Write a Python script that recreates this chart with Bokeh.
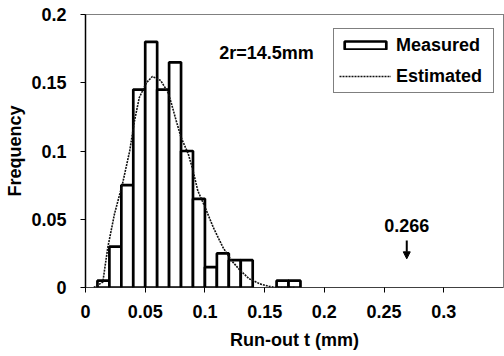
from bokeh.plotting import figure
from bokeh.models import (ColumnDataSource, FixedTicker, Legend, LegendItem,
                          Arrow, NormalHead, Range1d)
from bokeh.core.properties import value
from bokeh.embed import file_html
from bokeh.resources import INLINE

# ---- data ----
bin_centers = [0.015, 0.025, 0.035, 0.045, 0.055, 0.065, 0.075, 0.085, 0.095,
               0.105, 0.115, 0.125, 0.135, 0.145, 0.155, 0.165, 0.175]
measured = [0.005, 0.030, 0.075, 0.145, 0.180, 0.145, 0.165, 0.100, 0.065,
            0.015, 0.025, 0.020, 0.020, 0.0, 0.0, 0.005, 0.005]
bin_width = 0.01

est_t = [0.007, 0.0145, 0.0187, 0.0243, 0.031, 0.037, 0.041, 0.045, 0.051,
         0.056, 0.063, 0.069, 0.072, 0.076, 0.080, 0.086, 0.090, 0.094,
         0.100, 0.107, 0.115, 0.122, 0.129, 0.137, 0.146, 0.154, 0.162, 0.175]
est_f = [0.0, 0.004, 0.0295, 0.054, 0.076, 0.100, 0.122, 0.139, 0.150,
         0.1546, 0.1516, 0.143, 0.1346, 0.122, 0.110, 0.098, 0.0857, 0.071,
         0.059, 0.044, 0.0295, 0.020, 0.013, 0.0064, 0.0027, 0.0007, 0.0, 0.0]

x_ticks = [0, 0.05, 0.1, 0.15, 0.2, 0.25, 0.3]
x_tick_labels = ["0", "0.05", "0.1", "0.15", "0.2", "0.25", "0.3"]
y_ticks = [0, 0.05, 0.1, 0.15, 0.2]
y_tick_labels = ["0", "0.05", "0.1", "0.15", "0.2"]

note_text = "2r=14.5mm"
note_x, note_y = 0.112, 0.172
marker_label = "0.266"
marker_t = 0.269
marker_label_y = 0.0454
arrow_y_start, arrow_y_end = 0.0344, 0.021

FONT = "Liberation Sans"

# ---- figure ----
p = figure(width=504, height=356, output_backend="svg", toolbar_location=None,
           x_range=Range1d(0, 0.35), y_range=Range1d(0, 0.2),
           min_border_left=85, min_border_right=1, min_border_top=14,
           min_border_bottom=69)
p.background_fill_color = "white"
p.border_fill_color = "white"
p.outline_line_color = "black"
p.outline_line_width = 1
p.outline_line_dash = "1 1"
p.xgrid.visible = False
p.ygrid.visible = False

keep = [i for i, v in enumerate(measured) if v > 0]
bars_src = ColumnDataSource(dict(x=[bin_centers[i] for i in keep],
                                 top=[measured[i] for i in keep]))
bars = p.vbar(x="x", top="top", width=bin_width, bottom=0, source=bars_src,
              fill_color="white", line_color="black", line_width=2.7)

curve = p.line(est_t, est_f, line_color="#111111", line_width=1.6,
               line_dash="2 1")

p.text(x=[note_x], y=[note_y], text=[note_text], text_font=value(FONT),
       text_font_style="bold", text_font_size="18px", text_baseline="middle",
       text_align="left", text_color="black")
p.text(x=[marker_t], y=[marker_label_y], text=[marker_label],
       text_font=value(FONT), text_font_style="bold", text_font_size="18px",
       text_baseline="middle", text_align="center", text_color="black")
p.add_layout(Arrow(end=NormalHead(size=7, fill_color="black", line_color="black"),
                   x_start=marker_t, y_start=arrow_y_start,
                   x_end=marker_t, y_end=arrow_y_end,
                   line_color="black", line_width=2))

# axes
for ax in (p.xaxis[0], p.yaxis[0]):
    ax.major_label_text_font = FONT
    ax.major_label_text_font_style = "bold"
    ax.major_label_text_font_size = "18px"
    ax.major_label_text_color = "black"
    ax.axis_label_text_font = FONT
    ax.axis_label_text_font_style = "bold"
    ax.axis_label_text_font_size = "18px"
    ax.axis_label_text_color = "black"
    ax.major_tick_in = 0
    ax.major_tick_out = 5
    ax.minor_tick_in = 0
    ax.minor_tick_out = 0
    ax.axis_line_color = "black"
    ax.major_tick_line_color = "black"

p.xaxis.ticker = FixedTicker(ticks=x_ticks)
p.xaxis.major_label_overrides = dict(zip(x_ticks, x_tick_labels))
p.yaxis.ticker = FixedTicker(ticks=y_ticks)
p.yaxis.major_label_overrides = dict(zip(y_ticks, y_tick_labels))
p.xaxis.axis_label = "Run-out t (mm)"
p.yaxis.axis_label = "Frequency"
p.xaxis.major_label_standoff = 12
p.xaxis.axis_label_standoff = 9
p.yaxis.major_label_standoff = 14
p.yaxis.axis_label_standoff = 3
p.xaxis.axis_line_dash = "1 1"
p.yaxis.axis_line_width = 1.5

legend = Legend(items=[LegendItem(label="Measured", renderers=[bars]),
                       LegendItem(label="Estimated", renderers=[curve])],
                location=(248, 194))
legend.label_text_font = FONT
legend.label_text_font_style = "bold"
legend.label_text_font_size = "18px"
legend.label_text_color = "black"
legend.glyph_width = 52
legend.glyph_height = 10
legend.label_standoff = 5
legend.label_width = 92
legend.label_height = 22
legend.padding = 5
legend.spacing = 9
legend.margin = 0
legend.border_line_color = "black"
legend.border_line_width = 1
legend.background_fill_color = "white"
legend.background_fill_alpha = 1
p.add_layout(legend)

open("out.html", "w").write(file_html(p, INLINE))
